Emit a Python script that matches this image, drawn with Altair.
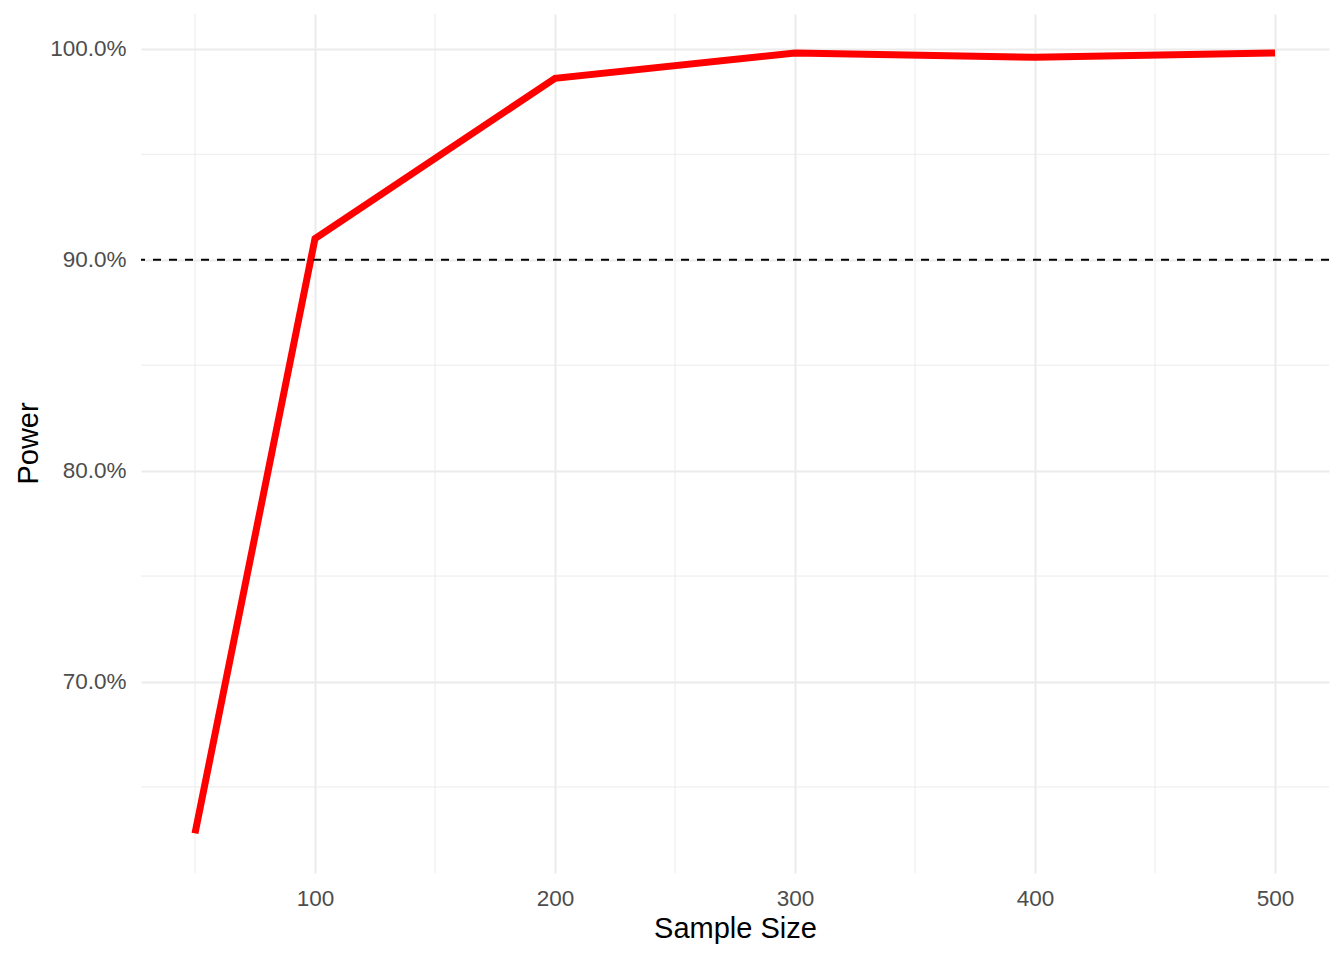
import altair as alt
import pandas as pd

# Datos
sample_size = [50, 100, 200, 300, 400, 500]
power = [0.628, 0.910, 0.986, 0.998, 0.996, 0.998]

target_power = [0.9]

# Rejilla secundaria (minor breaks de ggplot)
minor_x = [50, 150, 250, 350, 450]
minor_y = [0.65, 0.75, 0.85, 0.95]

major_x = [100, 200, 300, 400, 500]
major_y = [0.7, 0.8, 0.9, 1.0]

df = pd.DataFrame({"n": sample_size, "power": power})
df_minor_x = pd.DataFrame({"n": minor_x})
df_minor_y = pd.DataFrame({"power": minor_y})
df_target = pd.DataFrame({"power": target_power})

FONT = "Liberation Sans"
GRID = "#EBEBEB"

x_scale = alt.Scale(domain=[27.5, 522.5], nice=False, zero=False)
y_scale = alt.Scale(domain=[0.6092, 1.0165], nice=False, zero=False)

x_axis = alt.Axis(
    title="Sample Size", values=major_x, format="d",
    grid=True, gridColor=GRID, gridWidth=2,
    domain=False, ticks=False, tickSize=0,
    labelFont=FONT, labelFontSize=22.5, labelColor="#4D4D4D", labelPadding=14,
    titleFont=FONT, titleFontSize=29, titleFontWeight="normal", titleColor="black",
    titleBaseline="alphabetic", titleY=64,
)
y_axis = alt.Axis(
    title="Power", values=major_y, format=".1%",
    grid=True, gridColor=GRID, gridWidth=2,
    domain=False, ticks=False, tickSize=0,
    labelFont=FONT, labelFontSize=22.5, labelColor="#4D4D4D", labelPadding=15,
    titleFont=FONT, titleFontSize=29, titleFontWeight="normal", titleColor="black",
    titleAngle=-90, titleBaseline="alphabetic", titleX=-104, titleY=429,
)

minor_v = alt.Chart(df_minor_x).mark_rule(color=GRID, strokeWidth=1).encode(
    x=alt.X("n:Q", scale=x_scale, axis=x_axis)
)
minor_h = alt.Chart(df_minor_y).mark_rule(color=GRID, strokeWidth=1).encode(
    y=alt.Y("power:Q", scale=y_scale, axis=y_axis)
)

linea = alt.Chart(df).mark_line(color="#FF0000", strokeWidth=7, strokeCap="butt").encode(
    x=alt.X("n:Q", scale=x_scale, axis=x_axis),
    y=alt.Y("power:Q", scale=y_scale, axis=y_axis),
)

objetivo = alt.Chart(df_target).mark_rule(
    color="black", strokeWidth=2, strokeDash=[8, 8]
).encode(
    y=alt.Y("power:Q", scale=y_scale, axis=y_axis)
)

chart = alt.layer(minor_v, minor_h, linea, objetivo).properties(
    width=1188,
    height=859,
    padding={"left": 133, "top": 6, "right": 7, "bottom": 79},
    autosize=alt.AutoSizeParams(type="none"),
    background="white",
).configure_view(stroke=None)

chart.save("out.html", embed_options={"renderer": "svg", "actions": False})
